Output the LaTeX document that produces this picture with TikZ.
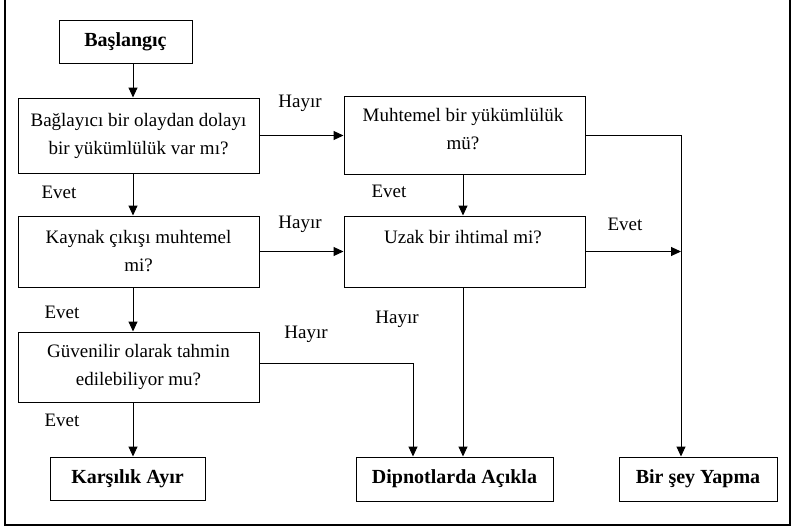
\documentclass[tikz,border=0pt]{standalone}
\usepackage{fontspec}
\setmainfont{Liberation Serif}
\usetikzlibrary{arrows.meta}
\begin{document}
\begin{tikzpicture}[x=1pt,y=-1pt,
  box/.style={draw, line width=1pt, inner sep=0pt, align=center, font=\fontsize{19}{28}\selectfont},
  endbox/.style={box, font=\fontsize{20}{24}\selectfont\bfseries},
  txt/.style={inner sep=0pt, align=center, font=\fontsize{19}{28}\selectfont},
  lbl/.style={inner sep=0pt, anchor=base, font=\fontsize{19}{23}\selectfont},
  arr/.style={line width=1pt, -{Triangle[length=10pt,width=9pt]}}]
\useasboundingbox (0,0) rectangle (793,528);
\draw[line width=1.2pt] (5,0) -- (5,525) -- (790,525) -- (790,0);

% boxes
\node[endbox, minimum width=133pt, minimum height=43pt] (start) at (125.5,41.5) {Başlangıç};
\node[box, minimum width=241pt, minimum height=75pt] (q1) at (138.5,135.5) {Bağlayıcı bir olaydan dolayı\\bir yükümlülük var mı?};
\node[box, minimum width=241pt, minimum height=71pt] (q2) at (138.5,251.5) {Kaynak çıkışı muhtemel\\mi?};
\node[box, minimum width=241pt, minimum height=70pt] (q3) at (138.5,367) {Güvenilir olarak tahmin\\edilebiliyor mu?};
\node[endbox, minimum width=155pt, minimum height=43pt] (r1) at (127.5,478.5) {Karşılık Ayır};
\node[box, minimum width=241pt, minimum height=78pt] (m1) at (464.5,135) {};
\node[txt, anchor=north] (m1t) at (463,108) {Muhtemel bir yükümlülük\\mü?};
\node[box, minimum width=241pt, minimum height=71pt] (m2) at (464.5,251.5) {};
\node[txt, anchor=north] (m2t) at (463,230) {Uzak bir ihtimal mi?};
\node[endbox, minimum width=197pt, minimum height=44pt] (d) at (454.5,479) {Dipnotlarda Açıkla};
\node[endbox, minimum width=158pt, minimum height=44pt] (b) at (698,479) {Bir şey Yapma};

% helper coordinates
\coordinate (cx) at (133,0);
\coordinate (mx) at (463,0);
\coordinate (rx) at (681,0);
\coordinate (gx) at (413,0);

% connectors
\draw[arr] (start.south -| cx) -- (q1.north -| cx);
\draw[arr] (q1.south -| cx) -- (q2.north -| cx);
\draw[arr] (q2.south -| cx) -- (q3.north -| cx);
\draw[arr] (q3.south -| cx) -- (r1.north -| cx);
\draw[arr] (q1.east) -- (q1.east -| m1.west);
\draw[arr] (q2.east) -- (q2.east -| m2.west);
\draw[arr] (m1.south -| mx) -- (m2.north -| mx);
\draw[arr] (m2.south -| mx) -- (d.north -| mx);
\draw[arr] (m1.east) -| (b.north -| rx);
\draw[arr] (m2.east) -- (m2.east -| rx);
\draw[arr] ([yshift=4pt]q3.east) -| (d.north -| gx);

% labels
\node[lbl] (h1) at (300,107) {Hayır};
\node[lbl] (e1) at (59,198) {Evet};
\node[lbl] (e2) at (389,197) {Evet};
\node[lbl] (h2) at (300,228) {Hayır};
\node[lbl] (e3) at (625,230) {Evet};
\node[lbl] (e4) at (62,318) {Evet};
\node[lbl] (h3) at (306,338) {Hayır};
\node[lbl] (h4) at (397,323) {Hayır};
\node[lbl] (e5) at (62,426) {Evet};
\end{tikzpicture}
\end{document}
